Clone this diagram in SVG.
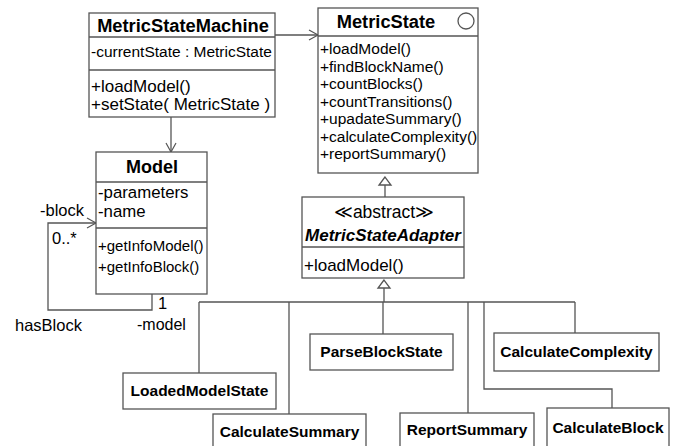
<svg xmlns="http://www.w3.org/2000/svg" width="686" height="446" viewBox="0 0 686 446">
<style>
.box{fill:#fff;stroke:#555;stroke-width:1.3}
.ln{fill:none;stroke:#555;stroke-width:1.3}
.t{font-family:"Liberation Sans",Arial,sans-serif;fill:#000}
.b{font-weight:bold}
.m{font-size:15.5px}
.c{text-anchor:middle}
.n{font-size:15.5px;font-weight:bold;text-anchor:middle}
</style>
<defs>
<marker id="open" markerWidth="12" markerHeight="12" refX="10" refY="6" orient="auto" markerUnits="userSpaceOnUse">
<path d="M1,1 L10,6 L1,11" fill="none" stroke="#555" stroke-width="1.2"/>
</marker>
</defs>
<g id="connectors">
<path class="ln" d="M275,35 H318" marker-end="url(#open)"/>
<path class="ln" d="M171,117 V152" marker-end="url(#open)"/>
<path class="ln" d="M152,294 V310 H48 V223 H96" marker-end="url(#open)"/>
<path class="ln" d="M385,185 V197"/>
<polygon class="box" points="385,177 379,185 391,185"/>
<path class="ln" d="M384,288 V302 M199,302 H575 M199,302 V373 M289,302 V414 M383,302 V334 M468,302 V413 M484,302 V389 H612 V408 M575,302 V333"/>
<polygon class="box" points="384,280 378,288 390,288"/>
<text class="t" x="40" y="216" font-size="16.5">-block</text>
<text class="t" x="52" y="244" font-size="16.5">0..*</text>
<text class="t" x="158" y="309" font-size="16.5">1</text>
<text class="t" x="137" y="330" font-size="16">-model</text>
<text class="t" x="15" y="331" font-size="16.5">hasBlock</text>
</g>
<g id="MetricStateMachine">
<rect class="box" x="89" y="13" width="186" height="104"/>
<path class="ln" d="M89,37 H275 M89,70 H275"/>
<text class="t b c" x="183" y="32" font-size="18.3">MetricStateMachine</text>
<text class="t" x="91" y="57" font-size="15.5">-currentState : MetricState</text>
<text class="t" x="91" y="92" font-size="17">+loadModel()</text>
<text class="t" x="91" y="110" font-size="17">+setState( MetricState )</text>
</g>
<g id="MetricState">
<rect class="box" x="318" y="8" width="160" height="165"/>
<path class="ln" d="M318,36 H478"/>
<circle class="box" cx="466" cy="21" r="8"/>
<text class="t b c" x="386" y="28" font-size="18.3">MetricState</text>
<text class="t m" x="320" y="54">+loadModel()</text>
<text class="t m" x="320" y="71.5">+findBlockName()</text>
<text class="t m" x="320" y="89">+countBlocks()</text>
<text class="t m" x="320" y="106.5">+countTransitions()</text>
<text class="t m" x="320" y="124">+upadateSummary()</text>
<text class="t m" x="320" y="141.5">+calculateComplexity()</text>
<text class="t m" x="320" y="159">+reportSummary()</text>
</g>
<g id="Model">
<rect class="box" x="96" y="152" width="111" height="142"/>
<path class="ln" d="M96,182 H207 M96,228 H207"/>
<text class="t b c" x="152" y="173" font-size="18">Model</text>
<text class="t" x="98" y="198" font-size="16.8">-parameters</text>
<text class="t" x="98" y="217" font-size="16.8">-name</text>
<text class="t" x="98" y="251" font-size="15">+getInfoModel()</text>
<text class="t" x="98" y="272" font-size="15">+getInfoBlock()</text>
</g>
<g id="MetricStateAdapter">
<rect class="box" x="302" y="197" width="162" height="81"/>
<path class="ln" d="M302,247 H464"/>
<text class="t c" x="384" y="218" font-size="17.5">≪abstract≫</text>
<text class="t b c" x="383" y="241" font-size="17" font-style="italic">MetricStateAdapter</text>
<text class="t" x="304" y="271" font-size="17">+loadModel()</text>
</g>
<g id="LoadedModelState">
<rect class="box" x="123" y="373" width="153" height="36"/>
<text class="t n" x="199.5" y="396">LoadedModelState</text>
</g>
<g id="CalculateSummary">
<rect class="box" x="213" y="414" width="153" height="40"/>
<text class="t n" x="289.5" y="437">CalculateSummary</text>
</g>
<g id="ParseBlockState">
<rect class="box" x="310" y="334" width="143" height="36"/>
<text class="t n" x="381.5" y="357">ParseBlockState</text>
</g>
<g id="ReportSummary">
<rect class="box" x="400" y="413" width="134" height="40"/>
<text class="t n" x="467" y="435">ReportSummary</text>
</g>
<g id="CalculateBlock">
<rect class="box" x="547" y="408" width="122" height="40"/>
<text class="t n" x="608" y="433">CalculateBlock</text>
</g>
<g id="CalculateComplexity">
<rect class="box" x="494" y="333" width="165" height="38"/>
<text class="t n" x="576.5" y="357">CalculateComplexity</text>
</g>
</svg>
